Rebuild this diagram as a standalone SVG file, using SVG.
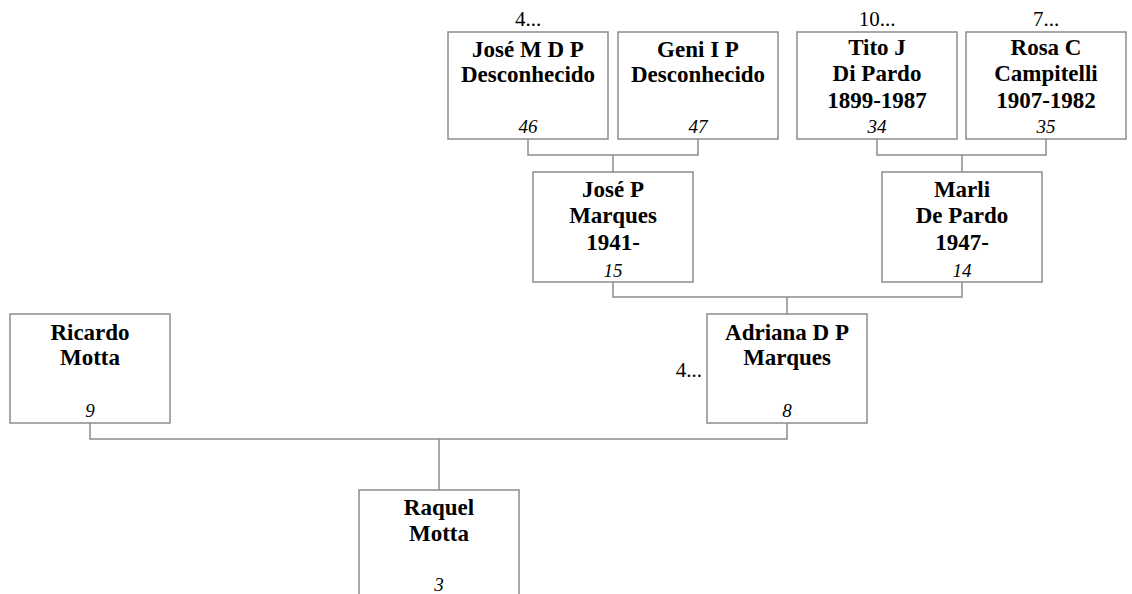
<svg xmlns="http://www.w3.org/2000/svg" width="1132" height="594" viewBox="0 0 1132 594">
<style>
.box{fill:#fff;stroke:#8c8c8c;stroke-width:1.5}
.nm{font-family:"Liberation Serif",serif;font-weight:bold;font-size:23px;text-anchor:middle;fill:#000}
.no{font-family:"Liberation Serif",serif;font-style:italic;font-size:19px;text-anchor:middle;fill:#000}
.more{font-family:"Liberation Serif",serif;font-size:21px;fill:#000}
.ln{fill:none;stroke:#8c8c8c;stroke-width:1.5}
</style>
<rect width="1132" height="594" fill="#fff"/>
<g id="connectors">
<path class="ln" d="M528 139V155H698V139M613 155V172"/>
<path class="ln" d="M877 139V155H1046V139M962 155V172"/>
<path class="ln" d="M613 282V297H962V282M787 297V314"/>
<path class="ln" d="M90 423V439H787V423M439 439V490"/>
</g>
<g id="n46">
<rect class="box" x="448" y="32" width="160" height="107"/>
<text class="more" x="528" y="26" text-anchor="middle">4...</text>
<text class="nm" x="528" y="57">José M D P</text>
<text class="nm" x="528" y="82">Desconhecido</text>
<text class="no" x="528" y="133">46</text>
</g>
<g id="n47">
<rect class="box" x="618" y="32" width="160" height="107"/>
<text class="nm" x="698" y="57">Geni I P</text>
<text class="nm" x="698" y="82">Desconhecido</text>
<text class="no" x="698" y="133">47</text>
</g>
<g id="n34">
<rect class="box" x="797" y="32" width="160" height="107"/>
<text class="more" x="877" y="26" text-anchor="middle">10...</text>
<text class="nm" x="877" y="55">Tito J</text>
<text class="nm" x="877" y="81">Di Pardo</text>
<text class="nm" x="877" y="108">1899-1987</text>
<text class="no" x="877" y="133">34</text>
</g>
<g id="n35">
<rect class="box" x="966" y="32" width="160" height="107"/>
<text class="more" x="1046" y="26" text-anchor="middle">7...</text>
<text class="nm" x="1046" y="55">Rosa C</text>
<text class="nm" x="1046" y="81">Campitelli</text>
<text class="nm" x="1046" y="108">1907-1982</text>
<text class="no" x="1046" y="133">35</text>
</g>
<g id="n15">
<rect class="box" x="533" y="172" width="160" height="110"/>
<text class="nm" x="613" y="197">José P</text>
<text class="nm" x="613" y="223">Marques</text>
<text class="nm" x="613" y="250">1941-</text>
<text class="no" x="613" y="277">15</text>
</g>
<g id="n14">
<rect class="box" x="882" y="172" width="160" height="110"/>
<text class="nm" x="962" y="197">Marli</text>
<text class="nm" x="962" y="223">De Pardo</text>
<text class="nm" x="962" y="250">1947-</text>
<text class="no" x="962" y="277">14</text>
</g>
<g id="n9">
<rect class="box" x="10" y="314" width="160" height="109"/>
<text class="nm" x="90" y="340">Ricardo</text>
<text class="nm" x="90" y="365">Motta</text>
<text class="no" x="90" y="417">9</text>
</g>
<g id="n8">
<rect class="box" x="707" y="314" width="160" height="109"/>
<text class="more" x="702" y="377" text-anchor="end">4...</text>
<text class="nm" x="787" y="340">Adriana D P</text>
<text class="nm" x="787" y="365">Marques</text>
<text class="no" x="787" y="417">8</text>
</g>
<g id="n3">
<rect class="box" x="359" y="490" width="160" height="109"/>
<text class="nm" x="439" y="515">Raquel</text>
<text class="nm" x="439" y="541">Motta</text>
<text class="no" x="439" y="591">3</text>
</g>
</svg>
